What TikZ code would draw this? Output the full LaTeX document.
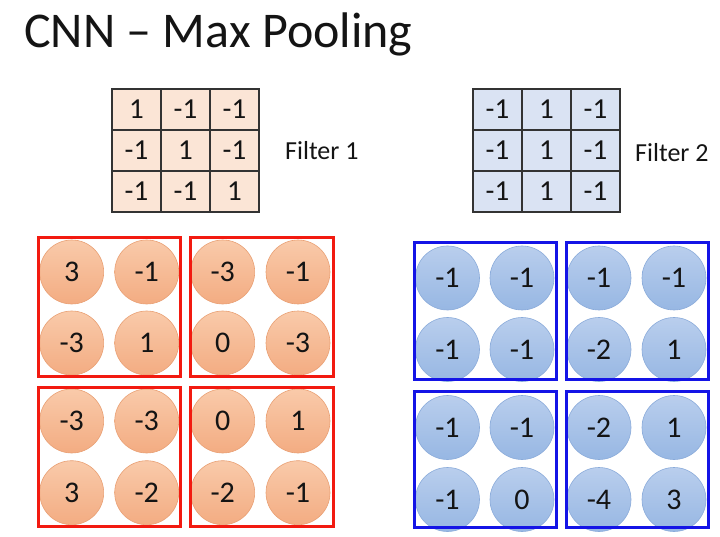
\documentclass[tikz,border=0pt]{standalone}
\usepackage{fontspec}
\setmainfont{Carlito}
\usepackage{tikz}
\definecolor{peach}{HTML}{FBE5D6}
\definecolor{icy}{HTML}{DAE3F3}
\definecolor{peachtop}{HTML}{F9CAAA}
\definecolor{peachbot}{HTML}{F3AC82}
\definecolor{peachrim}{HTML}{E9A074}
\definecolor{skytop}{HTML}{B9CEED}
\definecolor{skybot}{HTML}{97B7E3}
\definecolor{skyrim}{HTML}{8AABDA}
\definecolor{poolred}{HTML}{F21A10}
\definecolor{poolblue}{HTML}{1414E6}
\definecolor{inktext}{HTML}{141414}

\begin{document}
\begin{tikzpicture}[x=1pt,y=-1pt,
    cell/.style={draw=black!80,line width=1.1pt,minimum width=49pt,minimum height=41pt,
      inner sep=0pt,font=\fontsize{29}{33}\selectfont,text=inktext},
    blob/.style={circle,minimum size=64pt,inner sep=0pt,line width=0.6pt,
      font=\fontsize{30}{34}\selectfont,text=inktext},
    redblob/.style={blob,draw=peachrim,top color=peachtop,bottom color=peachbot},
    blueblob/.style={blob,draw=skyrim,top color=skytop,bottom color=skybot},
    poolbox/.style={line width=3pt}]
  \useasboundingbox (0,0) rectangle (720,537);
  \fill[white] (0,0) rectangle (720,537);

  % title
  \node[anchor=base west,inner sep=0pt,font=\fontsize{50}{56}\selectfont,text=inktext] (title) at (24,48) {CNN -- Max Pooling};

  % the two filters
  \foreach \v [count=\i from 0] in {1,-1,-1,-1,1,-1,-1,-1,1} {
    \pgfmathtruncatemacro{\r}{\i/3}
    \pgfmathtruncatemacro{\c}{mod(\i,3)}
    \node[cell,fill=peach] (fa-\r-\c) at (136.5+49*\c,109.5+41*\r) {\v};
  }
  \foreach \v [count=\i from 0] in {-1,1,-1,-1,1,-1,-1,1,-1} {
    \pgfmathtruncatemacro{\r}{\i/3}
    \pgfmathtruncatemacro{\c}{mod(\i,3)}
    \node[cell,fill=icy] (fb-\r-\c) at (497.5+49*\c,109.5+41*\r) {\v};
  }
  \node[anchor=base west,inner sep=0pt,font=\fontsize{26}{30}\selectfont,text=inktext] (labA) at (285,160) {Filter 1};
  \node[anchor=base west,inner sep=0pt,font=\fontsize{26}{30}\selectfont,text=inktext] (labB) at (635,161.5) {Filter 2};

  % feature map of filter 1
  \foreach \v [count=\i from 0] in {3,-1,-3,-1, -3,1,0,-3, -3,-3,0,1, 3,-2,-2,-1} {
    \pgfmathtruncatemacro{\r}{\i/4}
    \pgfmathtruncatemacro{\c}{mod(\i,4)}
    \pgfmathsetmacro{\px}{{71.7,146.7,222.7,298}[\c]}
    \pgfmathsetmacro{\py}{{272,343,421,492.7}[\r]}
    \node[redblob] (ra-\r-\c) at (\px,\py) {\v};
  }
  \draw[poolbox,poolred] (38,238) rectangle (180,376);
  \draw[poolbox,poolred] (190,238) rectangle (333,376);
  \draw[poolbox,poolred] (38,387) rectangle (180,526);
  \draw[poolbox,poolred] (190,387) rectangle (333,526);

  % feature map of filter 2
  \foreach \v [count=\i from 0] in {-1,-1,-1,-1, -1,-1,-2,1, -1,-1,-2,1, -1,0,-4,3} {
    \pgfmathtruncatemacro{\r}{\i/4}
    \pgfmathtruncatemacro{\c}{mod(\i,4)}
    \pgfmathsetmacro{\px}{{447.5,522,599,674}[\c]}
    \pgfmathsetmacro{\py}{{278,349.5,427.5,499.5}[\r]}
    \node[blueblob] (rb-\r-\c) at (\px,\py) {\v};
  }
  \draw[poolbox,poolblue] (414,242.7) rectangle (556,379);
  \draw[poolbox,poolblue] (566,242.7) rectangle (708,379);
  \draw[poolbox,poolblue] (414,391.7) rectangle (556,527.7);
  \draw[poolbox,poolblue] (566,391.7) rectangle (708,527.7);
\end{tikzpicture}
\end{document}
